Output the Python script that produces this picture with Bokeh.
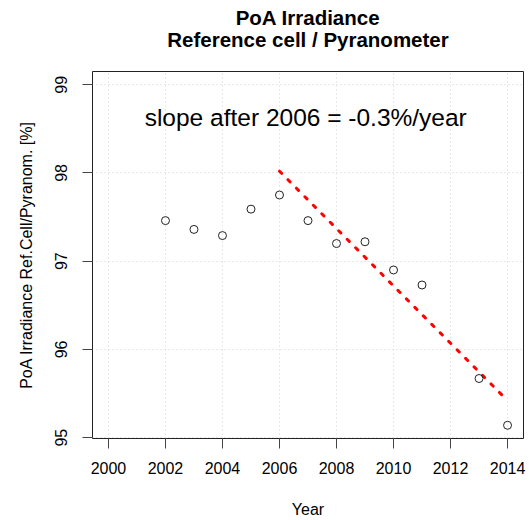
from bokeh.plotting import figure
from bokeh.models import FixedTicker, Range1d, ColumnDataSource, Label, Title
from bokeh.core.properties import value
from bokeh.embed import file_html
from bokeh.resources import INLINE

# ---- data ----
years = [2002, 2003, 2004, 2005, 2006, 2007, 2008, 2009, 2010, 2011, 2013, 2014]
ratio = [97.46, 97.36, 97.29, 97.59, 97.75, 97.46, 97.20, 97.22, 96.90, 96.73, 95.67, 95.14]
trend_years = [2006, 2014]
trend_values = [98.02, 95.42]
x_ticks = [2000, 2002, 2004, 2006, 2008, 2010, 2012, 2014]
y_ticks = [95, 96, 97, 98, 99]
title_lines = ["PoA Irradiance", "Reference cell / Pyranometer"]
annot_text = "slope after 2006 = -0.3%/year"
annot_x = 2006.92
annot_y = 98.63

FONT = "Liberation Sans"

p = figure(width=529, height=520, output_backend="svg", toolbar_location=None,
           x_range=Range1d(1999.44, 2014.56), y_range=Range1d(94.99, 99.15),
           min_border_left=92, min_border_right=6, min_border_top=71, min_border_bottom=81)

# two-line centred title: inner line added first
t2 = Title(text=title_lines[1], align="center", text_font=FONT, text_font_size="20.5px",
           text_font_style="bold", text_color="black", standoff=41)
t1 = Title(text=title_lines[0], align="center", text_font=FONT, text_font_size="20.5px",
           text_font_style="bold", text_color="black", standoff=-47)
p.add_layout(t2, "above")
p.add_layout(t1, "above")

p.outline_line_color = "#222222"
p.outline_line_width = 1
p.background_fill_color = "white"
p.border_fill_color = "white"

# grids
p.xgrid.ticker = FixedTicker(ticks=x_ticks)
p.ygrid.ticker = FixedTicker(ticks=y_ticks)
for g in (p.xgrid, p.ygrid):
    g.grid_line_color = "#d3d3d3"
    g.grid_line_dash = "1 3"
    g.grid_line_width = 1

# axes
p.xaxis.ticker = FixedTicker(ticks=x_ticks)
p.yaxis.ticker = FixedTicker(ticks=y_ticks)
for ax in (p.xaxis, p.yaxis):
    ax.axis_line_color = None
    ax.major_tick_line_color = "#444444"
    ax.major_tick_out = 10
    ax.major_tick_in = 0
    ax.minor_tick_line_color = None
    ax.major_label_text_font = FONT
    ax.major_label_text_font_size = "16px"
    ax.major_label_text_color = "black"
    ax.axis_label_text_font = FONT
    ax.axis_label_text_font_size = "16px"
    ax.axis_label_text_font_style = "normal"
    ax.axis_label_text_color = "black"

p.xaxis.axis_label = "Year"
p.xaxis.major_label_standoff = 13
p.xaxis.axis_label_standoff = 24
p.yaxis.axis_label = "PoA Irradiance Ref.Cell/Pyranom. [%]"
p.yaxis.major_label_orientation = "vertical"
p.yaxis.major_label_standoff = 15
p.yaxis.axis_label_standoff = 18

# trend line
p.line(trend_years, trend_values, line_color="#ff0000", line_width=3,
       line_dash="3 9", line_cap="round")

# points
src = ColumnDataSource(dict(x=years, y=ratio))
p.scatter("x", "y", source=src, marker="circle", size=8, fill_color=None,
          line_color="#222222", line_width=1)

# annotation
p.add_layout(Label(x=annot_x, y=annot_y, text=annot_text, text_font=FONT,
                   text_font_size="24.5px", text_align="center",
                   text_baseline="alphabetic", text_color="black"))

open("out.html", "w").write(file_html(p, INLINE))
